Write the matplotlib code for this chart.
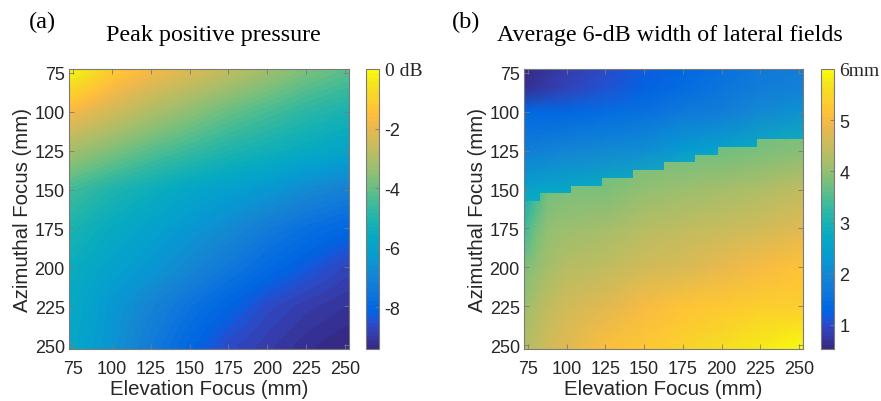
import numpy as np
import matplotlib
matplotlib.use('Agg')
import matplotlib.pyplot as plt
from matplotlib.colors import ListedColormap
from matplotlib.patches import Polygon

# MATLAB parula colormap (64 entries)
PARULA = [
    [0.2081, 0.1663, 0.5292], [0.2116, 0.1898, 0.5777], [0.2123, 0.2138, 0.6270],
    [0.2081, 0.2386, 0.6771], [0.1959, 0.2645, 0.7279], [0.1707, 0.2919, 0.7792],
    [0.1253, 0.3242, 0.8303], [0.0591, 0.3598, 0.8683], [0.0117, 0.3875, 0.8820],
    [0.0060, 0.4086, 0.8828], [0.0165, 0.4266, 0.8786], [0.0329, 0.4430, 0.8720],
    [0.0498, 0.4586, 0.8641], [0.0629, 0.4737, 0.8554], [0.0723, 0.4887, 0.8467],
    [0.0779, 0.5040, 0.8384], [0.0793, 0.5200, 0.8312], [0.0749, 0.5375, 0.8263],
    [0.0641, 0.5570, 0.8240], [0.0488, 0.5772, 0.8228], [0.0343, 0.5966, 0.8199],
    [0.0265, 0.6137, 0.8135], [0.0239, 0.6287, 0.8038], [0.0231, 0.6418, 0.7913],
    [0.0228, 0.6535, 0.7768], [0.0267, 0.6642, 0.7607], [0.0384, 0.6743, 0.7436],
    [0.0590, 0.6838, 0.7254], [0.0843, 0.6928, 0.7062], [0.1133, 0.7015, 0.6859],
    [0.1453, 0.7098, 0.6646], [0.1801, 0.7177, 0.6424], [0.2178, 0.7250, 0.6193],
    [0.2586, 0.7317, 0.5954], [0.3022, 0.7376, 0.5712], [0.3482, 0.7424, 0.5473],
    [0.3953, 0.7459, 0.5244], [0.4420, 0.7481, 0.5033], [0.4871, 0.7491, 0.4840],
    [0.5300, 0.7491, 0.4661], [0.5709, 0.7485, 0.4494], [0.6099, 0.7473, 0.4337],
    [0.6473, 0.7456, 0.4188], [0.6834, 0.7435, 0.4044], [0.7184, 0.7411, 0.3905],
    [0.7525, 0.7384, 0.3768], [0.7858, 0.7356, 0.3633], [0.8185, 0.7327, 0.3498],
    [0.8507, 0.7299, 0.3360], [0.8824, 0.7274, 0.3217], [0.9139, 0.7258, 0.3063],
    [0.9450, 0.7261, 0.2886], [0.9739, 0.7314, 0.2666], [0.9938, 0.7455, 0.2403],
    [0.9990, 0.7653, 0.2164], [0.9955, 0.7861, 0.1967], [0.9880, 0.8066, 0.1794],
    [0.9789, 0.8271, 0.1633], [0.9697, 0.8481, 0.1475], [0.9626, 0.8705, 0.1309],
    [0.9589, 0.8949, 0.1132], [0.9598, 0.9218, 0.0948], [0.9661, 0.9514, 0.0755],
    [0.9763, 0.9831, 0.0538]]
parula = ListedColormap(PARULA, name='parula')

# ---------------- data ----------------
focus_ticks = [75, 100, 125, 150, 175, 200, 225, 250]

# (a) peak positive pressure, dB; rows = azimuthal focus, cols = elevation focus
peak_elev = [75, 100, 125, 150, 175, 200, 225, 250]
peak_azim = [75, 100, 125, 150, 175, 200, 225, 250]
peak_db = [
    [-0.2, -1.2, -1.8, -2.3, -2.8, -3.3, -3.8, -4.2],
    [-1.8, -2.4, -3.0, -3.5, -4.0, -4.4, -4.8, -5.1],
    [-3.2, -3.7, -4.2, -4.6, -5.0, -5.3, -5.6, -5.9],
    [-4.5, -5.0, -5.4, -5.8, -6.1, -6.4, -6.8, -7.1],
    [-5.1, -5.6, -6.0, -6.4, -6.8, -7.3, -7.7, -8.0],
    [-5.5, -6.0, -6.4, -6.9, -7.4, -7.9, -8.3, -8.7],
    [-5.7, -6.4, -7.0, -7.6, -8.1, -8.6, -8.9, -9.1],
    [-5.8, -6.5, -7.3, -8.0, -8.6, -8.9, -9.2, -9.4],
]
peak_range = [-9.4, 0.0]
peak_cbar_ticks = [0, -2, -4, -6, -8]
peak_cbar_labels = ['0 dB', '-2', '-4', '-6', '-8']

# (b) average 6-dB width of lateral fields, mm
# field below the jump (larger widths)
wide_elev = [72.5, 80, 87.5, 100, 125, 150, 175, 200, 225, 252.5]
wide_azim = [72.5, 100, 125, 150, 175, 200, 225, 252.5]
wide_mm = [
    [3.0, 3.2, 3.3, 3.4, 3.45, 3.5, 3.55, 3.6, 3.6, 3.65],
    [3.0, 3.2, 3.35, 3.45, 3.5, 3.55, 3.6, 3.6, 3.65, 3.7],
    [3.0, 3.2, 3.45, 3.6, 3.65, 3.7, 3.7, 3.75, 3.8, 3.9],
    [2.9, 3.35, 3.7, 3.8, 3.85, 3.95, 4.05, 4.15, 4.25, 4.4],
    [3.35, 3.7, 3.95, 4.1, 4.2, 4.3, 4.4, 4.5, 4.6, 4.8],
    [3.8, 4.0, 4.15, 4.3, 4.45, 4.6, 4.7, 4.85, 5.0, 5.15],
    [4.05, 4.25, 4.4, 4.55, 4.8, 5.0, 5.15, 5.3, 5.4, 5.4],
    [4.3, 4.45, 4.6, 4.8, 5.1, 5.3, 5.45, 5.65, 5.8, 5.95],
]
# field above the jump (narrow widths)
narrow_elev = [72.5, 100, 125, 150, 175, 200, 225, 252.5]
narrow_azim = [72.5, 85, 100, 125, 150, 162.5]
narrow_mm = [
    [0.55, 0.8, 1.0, 1.15, 1.35, 1.55, 1.7, 1.8],
    [0.7, 0.95, 1.1, 1.25, 1.4, 1.6, 1.75, 1.85],
    [1.3, 1.35, 1.4, 1.5, 1.65, 1.8, 2.0, 2.2],
    [1.8, 1.9, 2.0, 2.15, 2.35, 2.55, 2.8, 3.0],
    [2.55, 2.65, 2.8, 2.95, 3.1, 3.2, 3.3, 3.4],
    [2.9, 2.9, 2.95, 3.0, 3.1, 3.2, 3.3, 3.4],
]
# location of the jump between the two regimes
jump_elev = [72.5, 80, 90, 100, 125, 150, 175, 200, 225, 252.5]
jump_azim = [157, 156, 154, 151, 145, 138.5, 131.5, 125, 119.5, 115.5]
width_range = [0.53, 6.0]
width_cbar_ticks = [6, 5, 4, 3, 2, 1]
width_cbar_labels = ['6mm', '5', '4', '3', '2', '1']

panel_titles = ['Peak positive pressure', 'Average 6-dB width of lateral fields']
panel_letters = ['(a)', '(b)']
xlabel = 'Elevation Focus (mm)'
ylabel = 'Azimuthal Focus (mm)'

# ---------------- drawing ----------------
SANS = ['Liberation Sans', 'DejaVu Sans']
SERIF = ['Liberation Serif', 'DejaVu Serif']
plt.rcParams['font.family'] = SANS
TXT = '#262626'
EDGE = '#7a7a7a'
LO, HI = 72.5, 252.5

W, H = 881, 402
fig = plt.figure(figsize=(W / 100, H / 100), dpi=100)


def fr(x0, y0, x1, y1):
    return [x0 / W, 1 - y1 / H, (x1 - x0) / W, (y1 - y0) / H]


def style_axes(ax):
    ax.set_xlim(LO, HI)
    ax.set_ylim(HI, LO)
    ax.set_xticks(focus_ticks)
    ax.set_yticks(focus_ticks)
    ax.tick_params(direction='in', top=True, right=True, length=3.5, width=0.6,
                   color=EDGE, labelsize=13, labelcolor=TXT)
    ax.tick_params(axis='x', pad=8)
    ax.tick_params(axis='y', pad=3)
    for s in ax.spines.values():
        s.set_color(EDGE)
        s.set_linewidth(0.8)
        s.set_zorder(5)
    ax.set_xlabel(xlabel, fontsize=14.7, color=TXT, labelpad=1.5)
    ax.set_ylabel(ylabel, fontsize=14.7, color=TXT, labelpad=2)


def add_colorbar(mappable, cb_rect, cticks, clabels):
    cax = fig.add_axes(fr(*cb_rect))
    cb = fig.colorbar(mappable, cax=cax)
    cb.set_ticks(cticks)
    cb.set_ticklabels(clabels)
    cb.outline.set_edgecolor(EDGE)
    cb.outline.set_linewidth(0.8)
    cax.tick_params(direction='in', length=3, width=0.6, color=EDGE,
                    labelsize=13, labelcolor=TXT, pad=4)
    for lab in cax.get_yticklabels():
        if lab.get_text() == clabels[0]:
            lab.set_fontfamily(SERIF)
            lab.set_fontsize(14)


def add_titles(title, letter, title_cx, letter_x):
    fig.text(title_cx / W, 1 - 36 / H, title, ha='center', va='center',
             fontsize=17.3, family=SERIF, color='black')
    fig.text(letter_x / W, 1 - 22 / H, letter, ha='left', va='center',
             fontsize=17.5, family=SERIF, color='black')


# ----- panel (a)
ax_a = fig.add_axes(fr(69, 70, 349, 350))
ex = np.asarray(peak_elev, float)
ey = np.asarray(peak_azim, float)
dx, dy = ex[1] - ex[0], ey[1] - ey[0]
im_a = ax_a.imshow(np.asarray(peak_db), cmap=parula, vmin=peak_range[0], vmax=peak_range[1],
                   extent=[ex[0] - dx / 2, ex[-1] + dx / 2, ey[-1] + dy / 2, ey[0] - dy / 2],
                   interpolation='bilinear', aspect='auto')
style_axes(ax_a)
add_colorbar(im_a, (366, 70, 379, 350), peak_cbar_ticks, peak_cbar_labels)
add_titles(panel_titles[0], panel_letters[0], 213, 29)

# ----- panel (b)
ax_b = fig.add_axes(fr(524, 70, 803, 350))
WX, WY = np.meshgrid(wide_elev, wide_azim)
m_wide = ax_b.pcolormesh(WX, WY, np.asarray(wide_mm), cmap=parula,
                         vmin=width_range[0], vmax=width_range[1], shading='gouraud')
NX, NY = np.meshgrid(narrow_elev, narrow_azim)
m_narrow = ax_b.pcolormesh(NX, NY, np.asarray(narrow_mm), cmap=parula,
                           vmin=width_range[0], vmax=width_range[1], shading='gouraud')
# stair-stepped jump on the 5-mm simulation grid
cell = 5.0
verts = [(LO, LO)]
for left in np.arange(LO, HI - 1e-9, cell):
    yb = np.interp(left + cell / 2, jump_elev, jump_azim)
    ye = LO + cell * np.round((yb - LO) / cell)
    verts += [(left, ye), (left + cell, ye)]
verts += [(HI, LO)]
clip = Polygon(verts, closed=True, transform=ax_b.transData)
m_narrow.set_clip_path(clip)
style_axes(ax_b)
add_colorbar(m_wide, (821, 70, 834, 350), width_cbar_ticks, width_cbar_labels)
add_titles(panel_titles[1], panel_letters[1], 670, 452)

fig.savefig('out.png', dpi=100)
